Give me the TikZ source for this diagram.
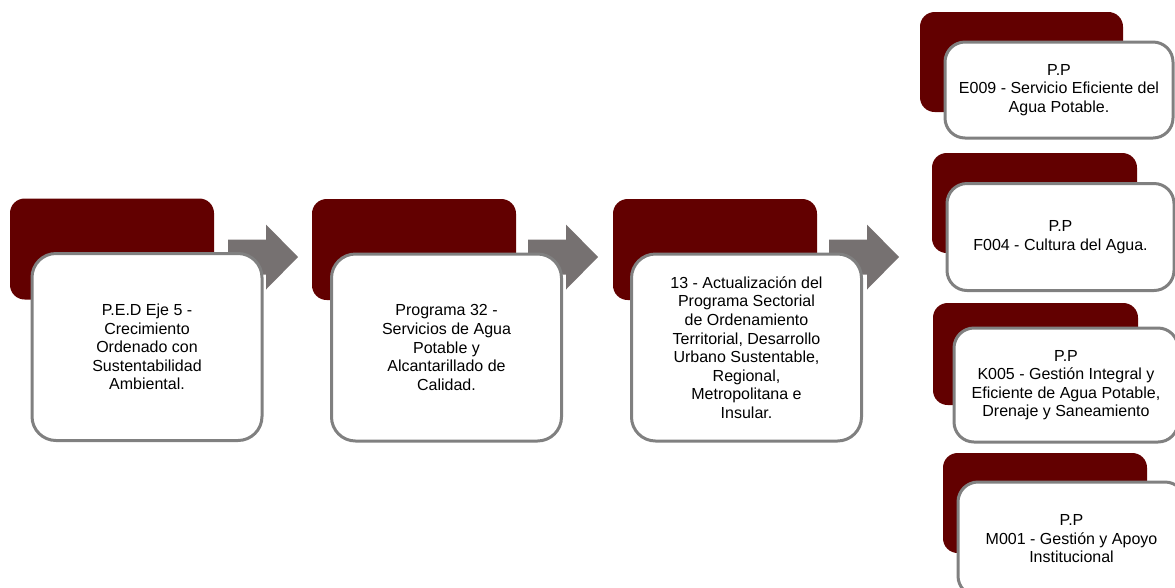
\documentclass[tikz,border=0pt]{standalone}
\usepackage{fontspec}
\setmainfont{Liberation Sans}
\definecolor{maroon}{RGB}{98,0,0}
\definecolor{arrowgray}{RGB}{118,113,113}
\definecolor{framegray}{RGB}{128,128,128}
\begin{document}
\begin{tikzpicture}[x=0.75pt,y=-0.75pt,
  back/.style 2 args={fill=maroon, rounded corners=11pt, inner sep=0pt, outer sep=0pt,
    minimum width={#1*0.75pt}, minimum height={#2*0.75pt}},
  card/.style 2 args={fill=white, draw=framegray, line width=2.25pt, inner sep=0pt, outer sep=0pt,
    minimum width={#1*0.75pt}, minimum height={#2*0.75pt}, align=center,
    font=\fontsize{12pt}{13.9pt}\selectfont},
  bigcard/.style={rounded corners=18pt},
  smallcard/.style={rounded corners=15pt},
  pics/blockarrow/.style={code={
    \fill[arrowgray] (0,-17.5) -- (38,-17.5) -- (38,-32.5) -- (70,0)
      -- (38,32.5) -- (38,17.5) -- (0,17.5) -- cycle;}}]
\useasboundingbox (0,0) rectangle (1175,587);

% dark tabs behind the main chain
\node[back={204}{101}] (d1) at (112,249) {};
\node[back={204}{101}] (d2) at (414,249.5) {};
\node[back={204}{101}] (d3) at (715,249.5) {};

% block arrows between the stages
\pic at (228,257) {blockarrow};
\pic at (528,257) {blockarrow};
\pic at (829,257) {blockarrow};

% main chain cards
\node[card={230}{187}, bigcard] (w1) at (147,347)
  {P.E.D Eje 5 -\\Crecimiento\\Ordenado con\\Sustentabilidad\\Ambiental.};
\node[card={230}{187}, bigcard] (w2) at (446.5,347.5)
  {Programa 32 -\\Servicios de Agua\\Potable y\\Alcantarillado de\\Calidad.};
\node[card={230}{187}, bigcard] (w3) at (746.5,347.5)
  {13 - Actualización del\\Programa Sectorial\\de Ordenamiento\\Territorial, Desarrollo\\Urbano Sustentable,\\Regional,\\Metropolitana e\\Insular.};

% program column
\node[back={203}{100}] (r1d) at (1021.5,62) {};
\node[card={228}{96}, smallcard] (r1) at (1059,90)
  {P.P\\E009 - Servicio Eficiente del\\Agua Potable.};

\node[back={205}{100}] (r2d) at (1034.5,203) {};
\node[card={227}{107}, smallcard] (r2) at (1060.5,237)
  {P.P\\F004 - Cultura del Agua.};

\node[back={205}{102}] (r3d) at (1035.5,354) {};
\node[card={224}{114}, smallcard] (r3) at (1066,385)
  {P.P\\K005 - Gestión Integral y\\Eficiente de Agua Potable,\\Drenaje y Saneamiento};

\node[back={204}{100}] (r4d) at (1045,503) {};
\node[card={227}{114}, smallcard] (r4) at (1071.5,539)
  {P.P\\M001 - Gestión y Apoyo\\Institucional};
\end{tikzpicture}
\end{document}
